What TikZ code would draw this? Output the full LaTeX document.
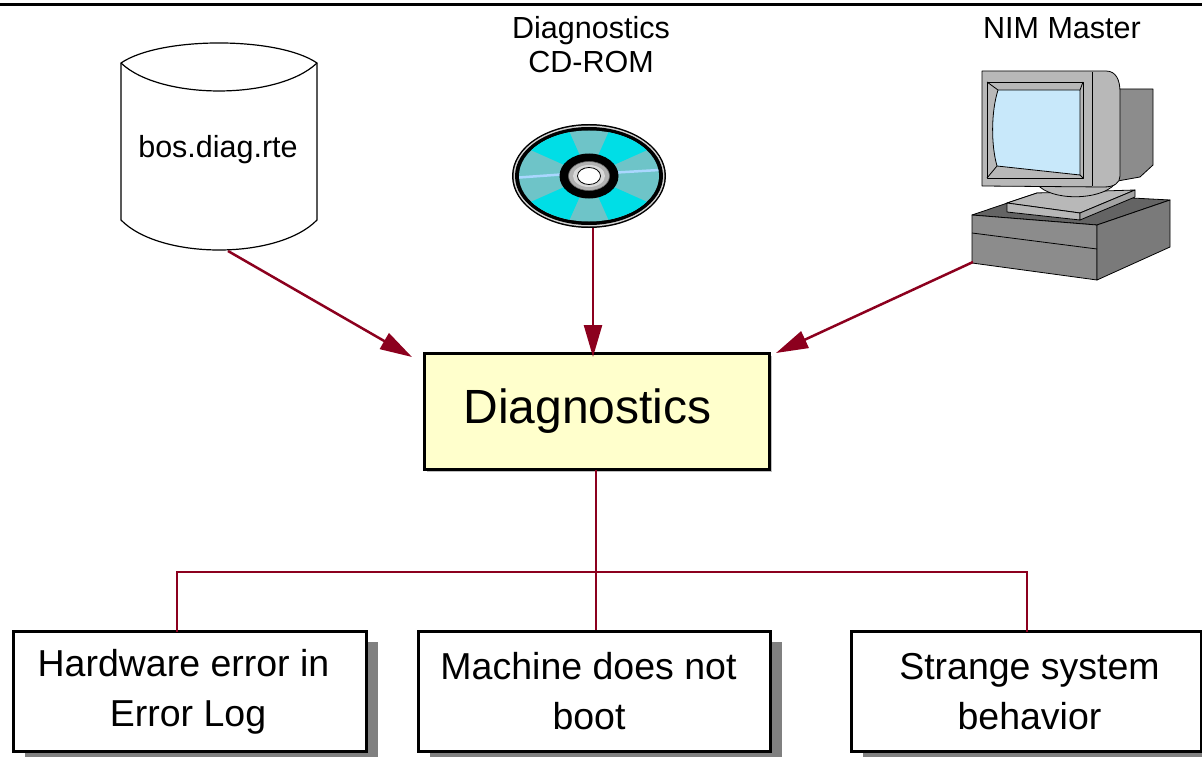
\documentclass[tikz,border=0pt]{standalone}
\usepackage{fontspec}
\setmainfont{Liberation Sans}
\usetikzlibrary{arrows.meta,shadows}

\definecolor{wirered}{RGB}{140,0,30}
\definecolor{notefill}{RGB}{255,255,204}
\definecolor{shadowgray}{RGB}{128,128,128}
\definecolor{cdcyan}{RGB}{0,222,230}
\definecolor{cdteal}{RGB}{110,196,200}
\definecolor{cdstripe}{RGB}{170,215,255}
\definecolor{pclight}{RGB}{184,184,184}
\definecolor{pcmid}{RGB}{140,140,140}
\definecolor{pcdark}{RGB}{100,100,100}
\definecolor{pcside}{RGB}{122,122,122}
\definecolor{screenblue}{RGB}{200,232,250}

\tikzset{
  feed/.style={draw=wirered, line width=2.5pt, -{Triangle[length=32pt,width=18pt]}},
  wire/.style={draw=wirered, line width=2.5pt},
  centerbox/.style={draw=black, line width=3pt, fill=notefill, outer sep=0pt,
    minimum width=345pt, minimum height=116pt,
    font=\fontsize{48}{52}\selectfont,
    drop shadow={shadow xshift=2.5pt, shadow yshift=-2.5pt, fill=black!25, opacity=1}},
  casebox/.style={draw=black, line width=3pt, fill=white, outer sep=0pt,
    minimum height=120pt, align=center,
    font=\fontsize{37.5}{50}\selectfont,
    drop shadow={shadow xshift=11pt, shadow yshift=-10pt, fill=shadowgray, opacity=1}},
  caption/.style={align=center, font=\fontsize{30.5}{34}\selectfont, inner sep=0pt},
  pcline/.style={draw=black, line width=0.8pt, line join=round},
}

\begin{document}
\begin{tikzpicture}[x=1pt, y=-1pt]
\useasboundingbox (0,0) rectangle (1202,757);

% rule along the top edge
\draw[line width=3pt] (0,5) -- (1202,5);

% ---------------- disk (cylinder) ----------------
\filldraw[fill=white, line width=1.2pt]
  (121,63) .. controls (160,36.3) and (278,36.3) .. (317,63)
  -- (317,220) .. controls (278,260) and (160,260) .. (121,220) -- cycle;
\draw[line width=1.2pt] (121,63) .. controls (160,100.3) and (278,100.3) .. (317,63);
\node[caption] (disk) at (218,150) {bos.diag.rte};
\coordinate (diskfoot) at (228,251);

% ---------------- CD ----------------
\node[caption] (cdlabel) at (591,45) {Diagnostics\\CD-ROM};
\begin{scope}[shift={(589,176)}, x=1pt, y=1pt]
  \fill[black] (0,0) ellipse [x radius=77, y radius=52];
  \fill[black!18] (0,0) ellipse [x radius=75.5, y radius=50.5];
  \fill[black] (0,0) ellipse [x radius=74, y radius=49];
  \begin{scope}
    \clip (0,0) ellipse [x radius=70, y radius=45.5];
    \fill[cdteal] (-80,-60) rectangle (80,60);
    \foreach \a in {45,135,225,315}
      \fill[cdcyan] (0,0) -- (\a-21:120) -- (\a+21:120) -- cycle;
    \draw[cdstripe, line width=2.5pt] (-70,-1.5) -- (-28,1.5);
    \draw[cdstripe, line width=2.5pt] (28,3.5) -- (70,6);
  \end{scope}
  \fill[black] (0,0) ellipse [x radius=29.5, y radius=22.5];
  \filldraw[fill=black!30, draw=black!60, line width=0.6pt] (0,0) ellipse [x radius=20.5, y radius=14.5];
  \fill[black!15] (0,0) ellipse [x radius=16, y radius=11];
  \filldraw[fill=white, draw=black, line width=0.8pt] (0,0) ellipse [x radius=11.5, y radius=8.5];
\end{scope}
\coordinate (cdfoot) at (593,228);

% ---------------- workstation ----------------
\node[caption] (pclabel) at (1062,28) {NIM Master};
% system unit
\filldraw[pcline, fill=pcdark] (972,215) -- (1037,193) -- (1170,200) -- (1097,225) -- cycle;
\filldraw[pcline, fill=pcmid] (972,215) -- (1097,225) -- (1097,280) -- (972,263) -- cycle;
\filldraw[pcline, fill=pcside] (1097,225) -- (1170,200) -- (1170,247) -- (1097,280) -- cycle;
\draw[pcline] (972,233) -- (1097,249);
% monitor stand plate
\filldraw[pcline, fill=pclight] (1007,203) -- (1037,193) -- (1135,190) -- (1080,213) -- cycle;
\filldraw[pcline, fill=pclight] (1007,203) -- (1080,213) -- (1080,220) -- (1007,212) -- cycle;
\filldraw[pcline, fill=pcmid!80!white] (1080,213) -- (1135,190) -- (1135,197) -- (1080,220) -- cycle;
% neck
\filldraw[pcline, fill=pclight] (1037,184) .. controls (1050,201) and (1100,201) .. (1115,184) -- cycle;
% monitor housing (rear)
\filldraw[pcline, fill=pcmid] (1112,89) -- (1153,89) -- (1153,165) -- (1140,177) -- (1112,182) -- cycle;
% monitor front
\filldraw[pcline, fill=pclight] (982,71) -- (1106,71)
  .. controls (1116,71) and (1120,80) .. (1120,92) -- (1120,176)
  .. controls (1120,183) and (1114,187) .. (1104,187) -- (982,186) -- cycle;
\draw[pcline] (1092,72) -- (1092,186);
\filldraw[pcline, fill=pclight] (987,82) rectangle (1083,178);
\draw[pcline] (987,82) -- (998,90);
\draw[pcline] (1083,82) -- (1080,90);
\draw[pcline] (987,178) -- (997,166);
\draw[pcline] (1083,178) -- (1080,175);
\filldraw[pcline, fill=screenblue] (998,90) -- (1080,90) -- (1080,175) -- (997,166)
  .. controls (991,145) and (991,112) .. (998,90) -- cycle;
\coordinate (pcfoot) at (973,262);

% ---------------- central box ----------------
\node[centerbox] (diag) at (597,411.5) {Diagnostics\kern19pt};

\coordinate (tipL) at (412,357);
\coordinate (tipM) at (593,357);
\coordinate (tipR) at (776,353);

\draw[feed] (diskfoot) -- (tipL);
\draw[feed] (cdfoot) -- (tipM);
\draw[feed] (pcfoot) -- (tipR);

% ---------------- symptom boxes ----------------
\node[casebox, minimum width=353pt] (hw) at (190,691.5) {Hardware error in\kern13pt\\Error Log\kern4pt};
\node[casebox, minimum width=352pt] (boot) at (594.5,691.5) {Machine does not\kern12pt\\boot\kern11pt};
\node[casebox, minimum width=350pt] (odd) at (1026.5,691.5) {\kern6pt Strange system\\\kern6pt behavior};

% branching connector
\coordinate (jL) at (177,572);
\coordinate (jR) at (1027,572);
\draw[wire] (diag.south -| 596,0) -- (596,630);
\draw[wire] (jL |- hw.north) -- (jL) -- (jR) -- (jR |- odd.north);

\end{tikzpicture}
\end{document}
